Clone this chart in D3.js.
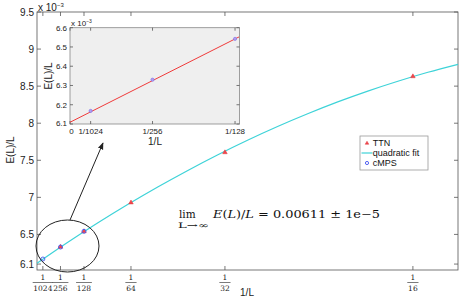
<!DOCTYPE html>
<html>
<head>
<meta charset="utf-8">
<script src="https://cdn.jsdelivr.net/npm/d3@7"></script>
<style>
  body { margin: 0; background: #fff; }
  svg { display: block; }
  .tick-label { font-family: "Liberation Sans", Arial, sans-serif; font-size: 10px; fill: #222; }
  .frac { font-family: "DejaVu Serif", "Liberation Serif", serif; font-size: 7.5px; fill: #222; }
  .axis-line { stroke: #555; stroke-width: 0.8; fill: none; }
  .in-label { font-family: "Liberation Sans", Arial, sans-serif; font-size: 8px; fill: #222; }
  .legend-label { font-family: "Liberation Sans", Arial, sans-serif; font-size: 9px; fill: #111; }
</style>
</head>
<body>
<svg id="graph" width="463" height="300"></svg>
<script>
// values are in units of 1e-3
const yTicks = [6.1, 6.5, 7, 7.5, 8, 8.5, 9, 9.5];
const xTickDen = [1024, 256, 128, 64, 32, 16];

const ttnX = [1/256, 1/128, 1/64, 1/32, 1/16];
const ttnY = [6.335, 6.545, 6.933, 7.61, 8.635];

const cmpsX = [1/1024, 1/256, 1/128];
const cmpsY = [6.168, 6.330, 6.542];

const fitX = [0, 0.005, 0.01, 0.015, 0.02, 0.025, 0.03, 0.035, 0.04, 0.045, 0.05, 0.055, 0.06, 0.065, 0.07];
const fitY = [6.110, 6.386, 6.649, 6.899, 7.136, 7.360, 7.572, 7.770, 7.955, 8.127, 8.287, 8.433, 8.566, 8.687, 8.794];

const insetYTicks = [6.1, 6.2, 6.3, 6.4, 6.5, 6.6];
const insetXTicks = [0, 1/1024, 1/256, 1/128];
const insetXLabels = ['0', '1/1024', '1/256', '1/128'];
const insetFitX = [0, 0.008];
const insetFitY = [6.109, 6.552];

const legendItems = ['TTN', 'quadratic fit', 'cMPS'];

const svg = d3.select('#graph');

const x = d3.scaleLinear().domain([0, 0.07]).range([37, 458]);
const y = d3.scaleLinear().domain([6.02, 9.5]).range([270, 12]);

const line = d3.line().x(d => x(d[0])).y(d => y(d[1])).curve(d3.curveMonotoneX);

// frame
svg.append('rect').attr('class', 'axis-line')
  .attr('x', 37).attr('y', 12).attr('width', 421).attr('height', 258);

// y ticks (both sides, inward)
yTicks.forEach(v => {
  svg.append('line').attr('class', 'axis-line')
    .attr('x1', 37).attr('x2', 41).attr('y1', y(v)).attr('y2', y(v));
  svg.append('line').attr('class', 'axis-line')
    .attr('x1', 458).attr('x2', 454).attr('y1', y(v)).attr('y2', y(v));
  svg.append('text').attr('class', 'tick-label')
    .attr('x', 34).attr('y', y(v) + 3.5).attr('text-anchor', 'end')
    .text(d3.format('~g')(v));
});

// exponent
const expo = svg.append('text').attr('class', 'tick-label').attr('x', 38).attr('y', 11);
expo.append('tspan').text('x 10');
expo.append('tspan').attr('dy', -4).attr('font-size', 6).text('−3');

// x ticks as fractions
xTickDen.forEach(d => {
  const px = x(1 / d);
  svg.append('line').attr('class', 'axis-line')
    .attr('x1', px).attr('x2', px).attr('y1', 270).attr('y2', 266);
  svg.append('line').attr('class', 'axis-line')
    .attr('x1', px).attr('x2', px).attr('y1', 12).attr('y2', 16);
  svg.append('text').attr('class', 'frac').attr('x', px).attr('y', 280)
    .attr('text-anchor', 'middle').text('1');
  const w = String(d).length * 4.6 + 2;
  svg.append('line').attr('stroke', '#222').attr('stroke-width', 0.6)
    .attr('x1', px - w / 2).attr('x2', px + w / 2).attr('y1', 282.5).attr('y2', 282.5);
  svg.append('text').attr('class', 'frac').attr('x', px).attr('y', 290.5)
    .attr('text-anchor', 'middle').text(d);
});

// axis labels
svg.append('text').attr('class', 'tick-label').attr('font-size', 11)
  .attr('x', 247).attr('y', 296).attr('text-anchor', 'middle').text('1/L');
svg.append('text').attr('class', 'tick-label').attr('font-size', 11)
  .attr('transform', 'translate(14,150) rotate(-90)').attr('text-anchor', 'middle').text('E(L)/L');

// fit curve
svg.append('path')
  .datum(fitX.map((v, i) => [v, fitY[i]]))
  .attr('d', line).attr('fill', 'none').attr('stroke', '#3ed3d8').attr('stroke-width', 1.2);

function triangle(sel, cx, cy, s) {
  sel.append('path')
    .attr('d', `M${cx},${cy - s}L${cx + s},${cy + s * 0.7}L${cx - s},${cy + s * 0.7}Z`)
    .attr('fill', '#f0454a').attr('stroke', '#e03a40').attr('stroke-width', 0.5);
}
function circle(sel, cx, cy, r) {
  sel.append('circle').attr('cx', cx).attr('cy', cy).attr('r', r)
    .attr('fill', 'none').attr('stroke', '#4455ee').attr('stroke-width', 0.9);
}

ttnX.forEach((v, i) => triangle(svg, x(v), y(ttnY[i]), 2.3));
cmpsX.forEach((v, i) => circle(svg, x(v), y(cmpsY[i]), 2));

// ellipse and arrow
svg.append('ellipse').attr('cx', 67.5).attr('cy', 246).attr('rx', 31.5).attr('ry', 26)
  .attr('fill', 'none').attr('stroke', '#222').attr('stroke-width', 1);
svg.append('defs').append('marker').attr('id', 'ah')
  .attr('viewBox', '0 0 10 10').attr('refX', 9).attr('refY', 5)
  .attr('markerWidth', 7).attr('markerHeight', 7).attr('orient', 'auto')
  .append('path').attr('d', 'M0,1L10,5L0,9Z').attr('fill', '#222');
svg.append('line').attr('x1', 70).attr('y1', 220).attr('x2', 103).attr('y2', 143)
  .attr('stroke', '#222').attr('stroke-width', 1).attr('marker-end', 'url(#ah)');

// formula
const serif = '"DejaVu Serif", "Liberation Serif", serif';
svg.append('text').attr('x', 179).attr('y', 218)
  .attr('font-family', serif).attr('font-size', 10.5).attr('fill', '#111').text('lim');
svg.append('text').attr('x', 178).attr('y', 227.5)
  .attr('font-family', serif).attr('font-size', 7.5)
  .attr('textLength', 31).attr('lengthAdjust', 'spacingAndGlyphs')
  .attr('fill', '#111').text('L→∞');
const ft = svg.append('text').attr('x', 213).attr('y', 218)
  .attr('font-family', serif).attr('font-size', 10.8)
  .attr('textLength', 167).attr('lengthAdjust', 'spacingAndGlyphs')
  .attr('fill', '#111');
ft.append('tspan').attr('font-style', 'italic').text('E');
ft.append('tspan').text('(');
ft.append('tspan').attr('font-style', 'italic').text('L');
ft.append('tspan').text(')/');
ft.append('tspan').attr('font-style', 'italic').text('L');
ft.append('tspan').text(' = 0.00611 ± 1e−5');

// legend
const lg = svg.append('g').attr('transform', 'translate(360,136)');
lg.append('rect').attr('width', 68).attr('height', 34)
  .attr('fill', '#fff').attr('stroke', '#999').attr('stroke-width', 0.8);
legendItems.forEach((name, i) => {
  const cy = 7 + i * 10;
  if (i === 0) triangle(lg, 7, cy, 1.8);
  if (i === 1) lg.append('line').attr('x1', 1.5).attr('x2', 12.5).attr('y1', cy).attr('y2', cy)
    .attr('stroke', '#3ed3d8').attr('stroke-width', 1.2);
  if (i === 2) circle(lg, 7, cy, 1.6);
  lg.append('text').attr('class', 'legend-label').attr('x', 12.7).attr('y', cy + 3.2).text(name);
});

// inset
const ix = d3.scaleLinear().domain([0, 0.008]).range([70, 239]);
const iy = d3.scaleLinear().domain([6.1, 6.6]).range([124, 27.7]);
svg.append('rect').attr('x', 70).attr('y', 27.7).attr('width', 169.5).attr('height', 96.3)
  .attr('fill', '#efefef').attr('stroke', '#888').attr('stroke-width', 0.8);

insetYTicks.forEach(v => {
  svg.append('line').attr('class', 'axis-line').attr('x1', 70).attr('x2', 73)
    .attr('y1', iy(v)).attr('y2', iy(v));
  svg.append('line').attr('class', 'axis-line').attr('x1', 239.5).attr('x2', 236.5)
    .attr('y1', iy(v)).attr('y2', iy(v));
  svg.append('text').attr('class', 'in-label').attr('x', 67).attr('y', iy(v) + (v === 6.1 ? 1.5 : 3))
    .attr('text-anchor', 'end').text(v.toFixed(1));
});
insetXTicks.forEach((v, i) => {
  svg.append('line').attr('class', 'axis-line').attr('x1', ix(v)).attr('x2', ix(v))
    .attr('y1', 124).attr('y2', 121);
  svg.append('line').attr('class', 'axis-line').attr('x1', ix(v)).attr('x2', ix(v))
    .attr('y1', 27.7).attr('y2', 30.7);
  svg.append('text').attr('class', 'in-label').attr('x', ix(v) + (i === 0 ? 1.5 : 0)).attr('y', 134)
    .attr('text-anchor', 'middle').text(insetXLabels[i]);
});
const iexp = svg.append('text').attr('class', 'in-label').attr('x', 71).attr('y', 26);
iexp.append('tspan').text('x 10');
iexp.append('tspan').attr('dy', -3).attr('font-size', 5).text('−3');
svg.append('text').attr('class', 'tick-label').attr('x', 155).attr('y', 145)
  .attr('text-anchor', 'middle').text('1/L');
svg.append('text').attr('class', 'tick-label')
  .attr('transform', 'translate(52,76) rotate(-90)').attr('text-anchor', 'middle').text('E(L)/L');

svg.append('path')
  .datum(insetFitX.map((v, i) => [v, insetFitY[i]]))
  .attr('d', d3.line().x(d => ix(d[0])).y(d => iy(d[1])))
  .attr('stroke', '#f03a3a').attr('stroke-width', 1).attr('fill', 'none');
cmpsX.forEach((v, i) => {
  svg.append('circle').attr('cx', ix(v)).attr('cy', iy(cmpsY[i])).attr('r', 1.6)
    .attr('fill', '#b0a0f0').attr('stroke', '#7a6ae8').attr('stroke-width', 0.6);
});
</script>
</body>
</html>
